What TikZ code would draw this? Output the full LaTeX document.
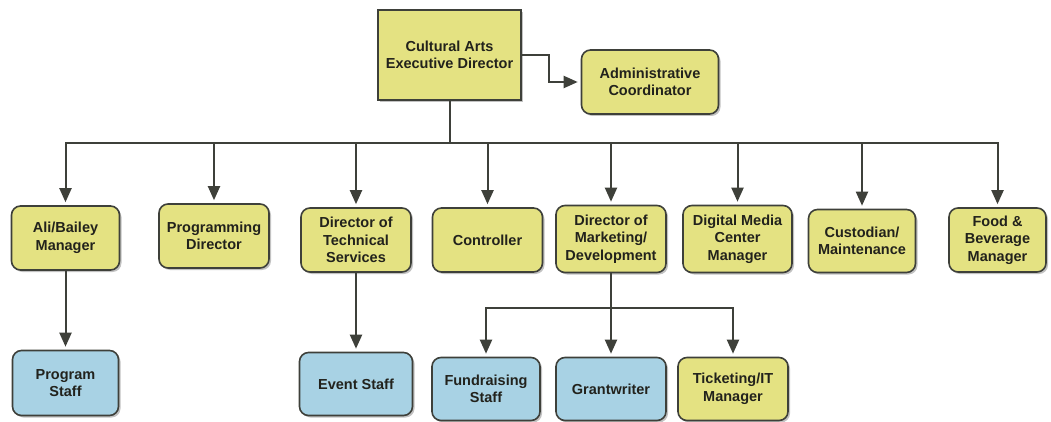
\documentclass[tikz,border=0pt]{standalone}
\usepackage{fontspec}
\setmainfont{Liberation Sans}
\usetikzlibrary{arrows.meta,shadows}
\definecolor{boxyellow}{RGB}{228,226,130}
\definecolor{boxblue}{RGB}{168,210,228}
\definecolor{boxline}{RGB}{62,64,58}
\definecolor{boxtext}{RGB}{34,34,28}
\begin{document}
\begin{tikzpicture}[
        x=1pt,y=-1pt,
        box/.style={draw=boxline,line width=1.6pt,align=center,text=boxtext,
            font=\fontsize{14.5}{17.5}\selectfont\bfseries,inner sep=2pt,
            drop shadow={shadow xshift=2pt,shadow yshift=-2pt,fill=black!40,opacity=0.6}},
        head/.style={box,fill=boxyellow,minimum width=143pt,minimum height=90pt},
        mgr/.style={box,fill=boxyellow,rounded corners=9pt,minimum width=#1,minimum height=64pt},
        mgr/.default=110pt,
        staff/.style={box,fill=boxblue,rounded corners=9pt,minimum width=#1,minimum height=63pt},
        staff/.default=110pt,
        arr/.style={draw=boxline,line width=2pt,-{Triangle[length=14pt,width=12pt]},shorten >=3pt},
        ]
    \useasboundingbox (0,0) rectangle (1051,422);
    \coordinate (bus) at (0,143);
    \coordinate (sub) at (0,308);

    % top
    \node [head] (exec) at (449.5,55) {Cultural Arts\\Executive Director};
    \node [mgr=137pt] (admin) at (650,82) {Administrative\\Coordinator};

    % managers
    \node [mgr=108pt] (ali) at (65.5,238) {Ali/Bailey\\Manager};
    \node [mgr] (prog) at (214,236) {Programming\\Director};
    \node [mgr] (tech) at (356,240) {Director of\\Technical\\Services};
    \node [mgr] (ctrl) at (487.5,240) {Controller};
    \node [mgr,minimum height=67pt] (mkt) at (611,239) {Director of\\Marketing/\\Development};
    \node [mgr=109pt,minimum height=67pt] (digi) at (737.5,239) {Digital Media\\Center\\Manager};
    \node [mgr=107pt,minimum height=63pt] (cust) at (862,241) {Custodian/\\Maintenance};
    \node [mgr=97pt] (food) at (997.5,240) {Food \&\\Beverage\\Manager};

    % staff
    \node [staff=106pt,minimum height=65pt] (pstaff) at (65.5,383) {Program\\Staff};
    \node [staff=113pt] (estaff) at (356,384) {Event Staff};
    \node [staff=108pt] (fund) at (486,389) {Fundraising\\Staff};
    \node [staff] (grant) at (611,389) {Grantwriter};
    \node [mgr,minimum height=63pt] (tick) at (733,389) {Ticketing/IT\\Manager};

    % connectors
    \draw [arr] (exec.east) -- ++(27,0) |- (admin.west);
    \foreach \n in {ali,prog,tech,ctrl,mkt,digi,cust,food}
        \draw [arr] (exec.south) -- (exec.south |- bus) -| (\n.north);
    \foreach \n in {fund,grant,tick}
        \draw [arr] (mkt.south) -- (mkt.south |- sub) -| (\n.north);
    \draw [arr] (ali.south) -- (pstaff.north);
    \draw [arr] (tech.south) -- (estaff.north);
\end{tikzpicture}
\end{document}
